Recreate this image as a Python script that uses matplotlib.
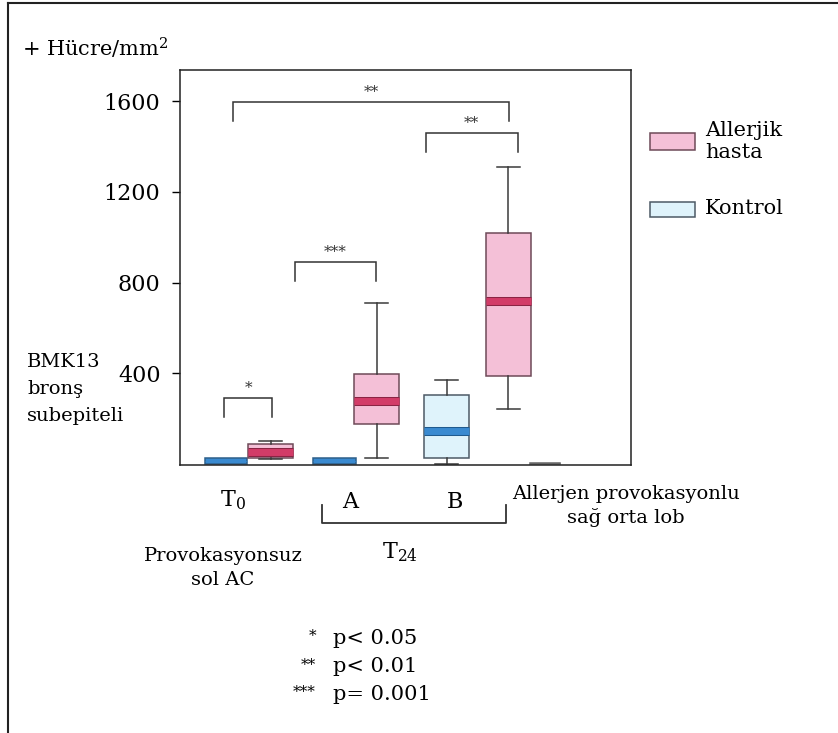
import matplotlib
matplotlib.use("Agg")
import matplotlib.pyplot as plt
import matplotlib.patheffects as pe
from matplotlib.patches import Rectangle
from matplotlib.lines import Line2D

plt.rcParams['font.family'] = ['DejaVu Serif']
plt.rcParams['mathtext.fontset'] = 'dejavuserif'

# box statistics, cells/mm2
groups = ['T0 Kontrol', 'T0 Allerjik', 'A Kontrol', 'A Allerjik',
          'B Kontrol', 'B Allerjik', 'Lob Kontrol']
kinds = ['kontrol', 'allerjik', 'kontrol', 'allerjik', 'kontrol', 'allerjik', 'kontrol']
whislo = [0, 24, 0, 26, 0, 243, 0]
q1 = [0, 26, 0, 176, 26, 388, 0]
med = [12, 53, 12, 278, 148, 719, 3]
q3 = [25, 88, 25, 397, 304, 1019, 6]
whishi = [25, 101, 25, 710, 370, 1310, 6]
positions = [1.02, 2.01, 3.43, 4.36, 5.91, 7.28, 8.09]
widths = [0.95, 1.0, 0.95, 1.0, 1.0, 1.0, 0.65]

yticks = [400, 800, 1200, 1600]
ylabel_lines = ['BMK13', 'bronş', 'subepiteli']

# significance brackets: x0, x1, top, leg end, label
brackets = [
    (0.98, 2.04, 291, 207, '*'),
    (2.55, 4.35, 891, 807, '***'),
    (1.18, 7.29, 1596, 1513, '**'),
    (5.45, 7.49, 1460, 1376, '**'),
]

W, H = 838, 733
pink, pink_edge, pink_med = '#f4c0d7', '#6e4a58', '#d23c68'
blue, blue_edge, blue_med = '#dff3fb', '#4d5a66', '#3a8ad0'


def fx(x):
    return x / W


def fy(y):
    return 1 - y / H


fig = plt.figure(figsize=(W / 100, H / 100), dpi=100)
ax = fig.add_axes([fx(180), fy(465), (631 - 180) / W, (465 - 70) / H])

stats = []
for i in range(len(groups)):
    stats.append(dict(label=groups[i], whislo=whislo[i], q1=q1[i], med=med[i],
                      q3=q3[i], whishi=whishi[i], fliers=[]))

art = ax.bxp(stats, positions=positions, widths=widths, patch_artist=True,
             showfliers=False, manage_ticks=False,
             whiskerprops=dict(color='#3a3a3a', lw=1.1),
             capprops=dict(color='#3a3a3a', lw=1.1),
             boxprops=dict(lw=1.1))

for i, kind in enumerate(kinds):
    box = art['boxes'][i]
    m = art['medians'][i]
    m.set_solid_capstyle('butt')
    if kind == 'allerjik':
        box.set_facecolor(pink)
        box.set_edgecolor(pink_edge)
        m.set_color(pink_med)
        m.set_linewidth(5)
        m.set_path_effects([pe.Stroke(linewidth=6.5, foreground='#8a2444', capstyle='butt'),
                            pe.Normal()])
    elif q3[i] - q1[i] > 40:
        box.set_facecolor(blue)
        box.set_edgecolor(blue_edge)
        m.set_color(blue_med)
        m.set_linewidth(5)
        m.set_path_effects([pe.Stroke(linewidth=6.5, foreground='#1f5a8e', capstyle='butt'),
                            pe.Normal()])
    else:
        # flat control boxes sit on the baseline
        col = blue_med if q3[i] > 10 else '#666666'
        box.set_facecolor(col)
        box.set_edgecolor('#2d5f8a' if q3[i] > 10 else '#666666')
        m.set_color(col)
        m.set_linewidth(0.5)
    if whishi[i] == q3[i]:
        art['caps'][2 * i + 1].set_visible(False)
        art['caps'][2 * i].set_visible(False)

for x0, x1, top, leg, lab in brackets:
    ax.plot([x0, x0, x1, x1], [leg, top, top, leg], color='#333333', lw=1.1,
            solid_joinstyle='miter')
    ax.text((x0 + x1) / 2, top + 15, lab, ha='center', va='bottom',
            fontsize=11, color='#333333')

ax.set_xlim(0, 10)
ax.set_ylim(-4, 1738)
ax.set_yticks(yticks)
ax.set_xticks([])
ax.tick_params(axis='y', direction='out', length=6, width=1, labelsize=16, pad=8)
for s in ax.spines.values():
    s.set_linewidth(1.1)
    s.set_color('#222222')

# outer frame
fig.add_artist(Line2D([fx(8), fx(8)], [fy(3), 0], color='#222222', lw=1.5))
fig.add_artist(Line2D([fx(8), 1], [fy(3), fy(3)], color='#222222', lw=1.5))

fig.text(fx(22), fy(48), '+ Hücre/mm$^2$', fontsize=15, va='center', ha='left')
for k, line in enumerate(ylabel_lines):
    fig.text(fx(27), fy(362 + 27 * k), line, fontsize=14, va='center', ha='left')

# x-axis group labels
fig.text(fx(233), fy(500), 'T$_0$', fontsize=16, ha='center', va='center')
fig.text(fx(350), fy(502), 'A', fontsize=16, ha='center', va='center')
fig.text(fx(455), fy(502), 'B', fontsize=16, ha='center', va='center')
fig.add_artist(Line2D([fx(322), fx(322), fx(506), fx(506)],
                      [fy(505), fy(523), fy(523), fy(505)], color='#333333', lw=1.3))
fig.text(fx(400), fy(552), 'T$_{24}$', fontsize=16, ha='center', va='center')
fig.text(fx(223), fy(568), 'Provokasyonsuz\nsol AC', fontsize=14, ha='center',
         va='center', linespacing=1.4)
fig.text(fx(626), fy(506), 'Allerjen provokasyonlu\nsağ orta lob', fontsize=14,
         ha='center', va='center', linespacing=1.3)

# legend
fig.add_artist(Rectangle((fx(650), fy(150)), 45 / W, 17 / H, transform=fig.transFigure,
                         facecolor=pink, edgecolor=pink_edge, lw=1.1))
fig.text(fx(705), fy(141), 'Allerjik\nhasta', fontsize=15, ha='left', va='center',
         linespacing=1.2)
fig.add_artist(Rectangle((fx(650), fy(217)), 45 / W, 15 / H, transform=fig.transFigure,
                         facecolor=blue, edgecolor=blue_edge, lw=1.1))
fig.text(fx(705), fy(209), 'Kontrol', fontsize=15, ha='left', va='center')

# significance key
for yy, st, txt in [(638, '*', 'p< 0.05'), (667, '**', 'p< 0.01'), (694, '***', 'p= 0.001')]:
    fig.text(fx(316), fy(yy - 2), st, fontsize=11, ha='right', va='center')
    fig.text(fx(333), fy(yy), txt, fontsize=15, ha='left', va='center')

fig.savefig('out.png', dpi=100)
